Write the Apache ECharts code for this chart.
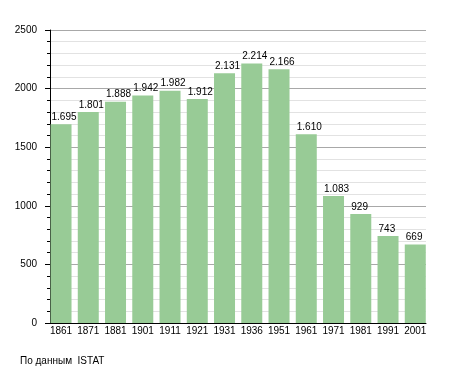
<!DOCTYPE html>
<html>
<head>
<meta charset="utf-8">
<script src="https://cdn.jsdelivr.net/npm/echarts@6/dist/echarts.min.js"></script>
<style>html,body{margin:0;padding:0;background:#fff;}#c{width:455px;height:373px;}</style>
</head>
<body>
<div id="c"></div>
<script>
var categories = ['1861','1871','1881','1901','1911','1921','1931','1936','1951','1961','1971','1981','1991','2001'];
var population = [1695,1801,1888,1942,1982,1912,2131,2214,2166,1610,1083,929,743,669];
var yTicks = [0,500,1000,1500,2000,2500];
var footer = 'По данным  ISTAT';

function fmt(v){
  if (v >= 1000) { var r = String(v % 1000); while (r.length < 3) r = '0' + r; return Math.floor(v/1000) + '.' + r; }
  return String(v);
}
var FONT = 'Liberation Sans, Arial, sans-serif';
var chart = echarts.init(document.getElementById('c'), null, {renderer:'canvas'});
chart.setOption({
  animation:false,
  backgroundColor:'#ffffff',
  grid:[
    {left:50, right:29, top:30, bottom:50},
    {left:47.4, right:26.1, top:30, bottom:50}
  ],
  xAxis:[
    {gridIndex:0, type:'category', data:categories, axisLine:{show:true, lineStyle:{color:'#000', width:1}},
      axisTick:{show:false}, axisLabel:{show:false}, splitLine:{show:false}},
    {gridIndex:1, type:'category', data:categories, axisLine:{show:false}, axisTick:{show:false},
      axisLabel:{show:true, color:'#000', fontSize:10, fontFamily:FONT, margin:3, interval:0}, splitLine:{show:false}}
  ],
  yAxis:[
    {gridIndex:0, type:'value', min:yTicks[0], max:yTicks[yTicks.length-1], interval:500,
      axisLine:{show:true, lineStyle:{color:'#000', width:1}},
      axisTick:{show:true, length:5, lineStyle:{color:'#000'}},
      minorTick:{show:true, splitNumber:5, length:3, lineStyle:{color:'#000'}},
      axisLabel:{color:'#000', fontSize:10, fontFamily:FONT, margin:13, formatter:function(v){return String(v);}},
      splitLine:{show:true, lineStyle:{color:'#a8a8a8', width:1}},
      minorSplitLine:{show:true, lineStyle:{color:'#e2e2e2', width:1}}},
    {gridIndex:1, type:'value', min:0, max:2500, show:false, splitLine:{show:false}}
  ],
  series:[{
    type:'bar', xAxisIndex:1, yAxisIndex:1, data:population, barWidth:21,
    itemStyle:{color:'#98cb96'},
    label:{show:true, position:[1,-2], align:'left', verticalAlign:'bottom', color:'#000', fontSize:10, fontFamily:FONT,
      formatter:function(p){return fmt(p.value);}}
  }],
  graphic:[{type:'text', left:20, top:356, style:{text:footer, fill:'#000', font:'10px ' + FONT}}]
});
</script>
</body>
</html>
